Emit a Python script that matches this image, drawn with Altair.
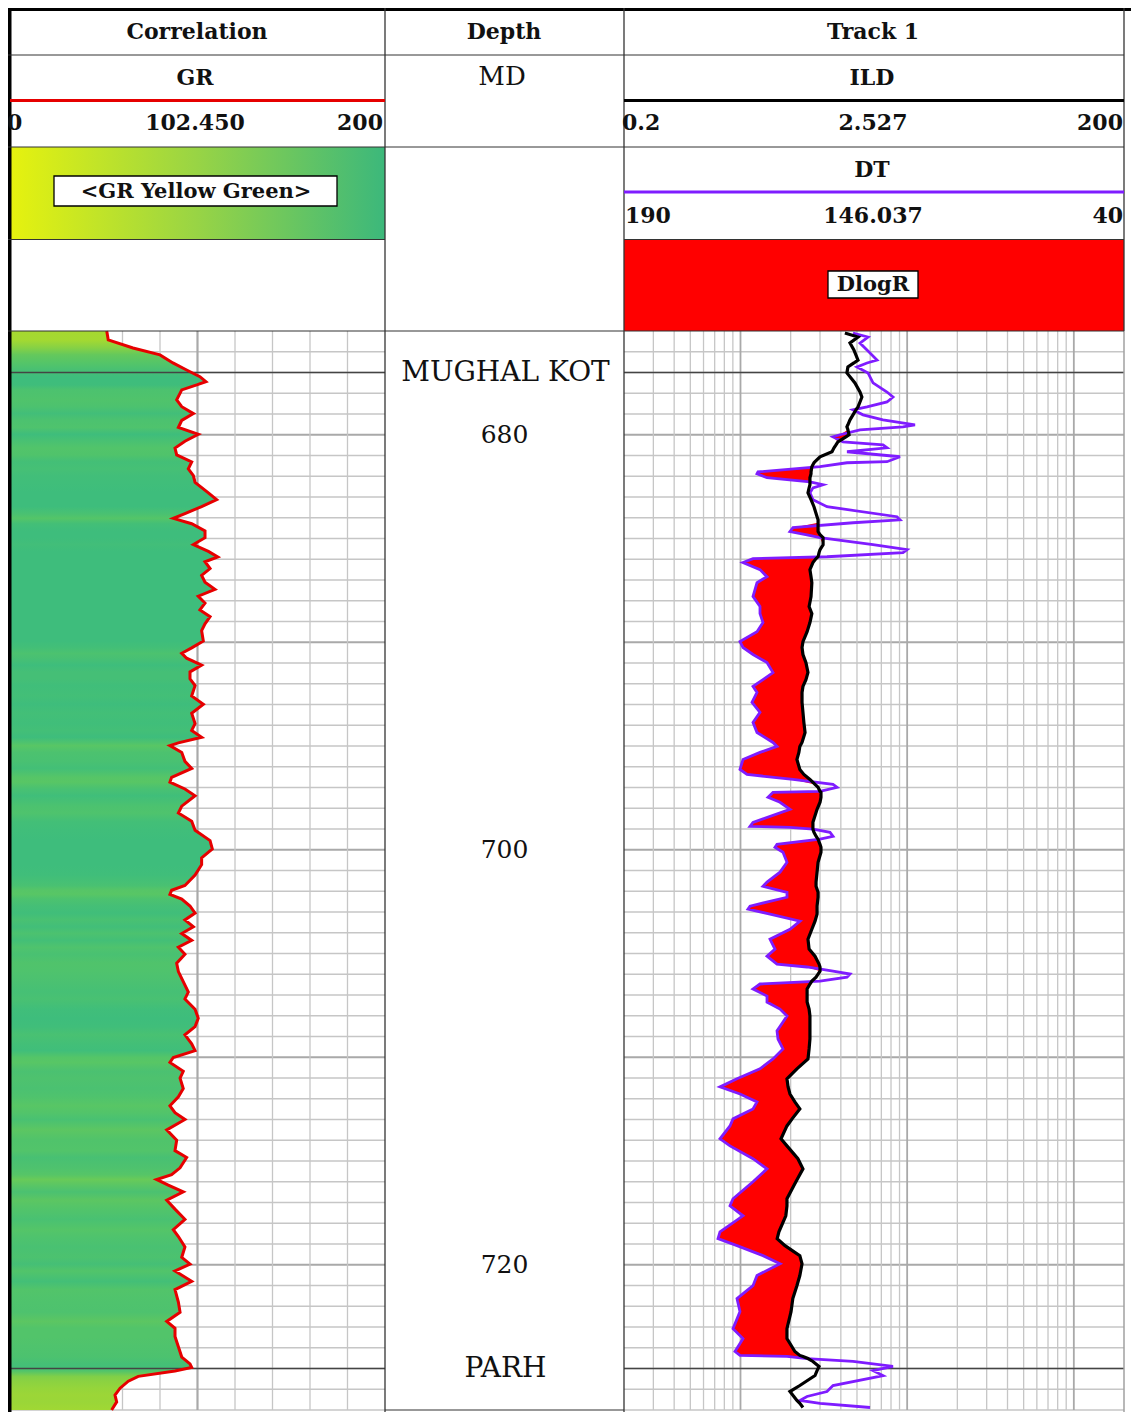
import altair as alt
import pandas as pd

# ---------------- data ----------------
# Correlation track : GR (API) vs measured depth (m)
gr_depth = [675.00, 675.43, 675.82, 676.15, 676.54, 676.88, 677.20, 677.44, 677.60, 677.84,
            678.32, 678.65, 678.98, 679.31, 679.65, 679.98, 680.31, 680.64, 680.97, 681.31,
            681.64, 681.97, 682.30, 682.80, 683.13, 683.46, 683.80, 684.03, 684.29, 684.63,
            684.96, 685.29, 685.62, 685.89, 686.12, 686.45, 686.78, 687.11, 687.45, 687.78,
            688.11, 688.44, 688.77, 689.11, 689.44, 689.94, 690.27, 690.53, 690.77, 691.10,
            691.43, 691.76, 692.09, 692.59, 692.99, 693.42, 693.92, 694.25, 694.58, 694.85,
            694.98, 695.31, 695.74, 696.08, 696.51, 696.74, 697.07, 697.40, 697.90, 698.23,
            698.63, 699.06, 699.56, 699.96, 700.39, 700.72, 701.22, 701.72, 701.95, 702.15,
            702.38, 702.71, 703.05, 703.38, 703.71, 704.04, 704.37, 704.70, 705.04, 705.47,
            705.87, 706.36, 706.86, 707.19, 707.69, 708.12, 708.52, 708.92, 709.35, 709.68,
            710.01, 710.25, 710.68, 711.01, 711.51, 711.91, 712.34, 712.67, 713.00, 713.50,
            714.00, 714.50, 714.83, 715.33, 715.66, 715.89, 716.16, 716.49, 716.89, 717.32,
            717.81, 718.31, 718.64, 719.14, 719.64, 719.97, 720.30, 720.80, 721.20, 721.80,
            722.29, 722.73, 723.06, 723.46, 723.95, 724.45, 724.78, 724.95, 725.12, 725.38,
            725.61, 725.95, 726.28, 726.61, 727.00]
gr_api = [51.6, 52.4, 65.6, 80.0, 86.9, 94.2, 101.3, 104.5, 99.6, 91.6,
          88.9, 91.6, 97.8, 91.6, 89.8, 100.4, 93.3, 88.0, 88.9, 96.9,
          95.1, 97.8, 98.7, 105.8, 110.2, 102.2, 93.3, 87.1, 96.9, 104.0,
          104.0, 97.8, 105.8, 110.8, 104.0, 106.7, 102.2, 104.0, 109.3, 100.4,
          104.0, 101.3, 106.7, 104.0, 102.2, 103.1, 96.9, 91.6, 94.2, 102.2,
          96.0, 96.0, 98.7, 96.9, 103.1, 96.9, 98.7, 96.9, 102.2, 89.8,
          85.3, 91.6, 93.3, 96.9, 86.2, 85.3, 93.3, 98.7, 91.6, 89.8,
          96.9, 98.7, 106.7, 107.9, 102.2, 102.2, 98.7, 93.3, 86.2, 85.3,
          91.6, 96.0, 98.7, 93.3, 97.8, 91.6, 96.9, 89.8, 93.3, 88.9,
          89.8, 92.4, 95.1, 93.3, 98.7, 100.4, 98.7, 93.3, 96.9, 98.7,
          87.1, 85.3, 92.4, 90.7, 92.4, 89.8, 85.3, 88.0, 93.3, 83.6,
          88.9, 88.0, 94.2, 90.7, 86.2, 78.2, 84.4, 92.4, 83.6, 88.0,
          93.3, 87.1, 89.8, 93.3, 91.6, 96.0, 88.0, 96.9, 88.0, 89.8,
          90.7, 83.6, 88.0, 88.0, 89.8, 91.6, 96.0, 96.9, 88.0, 68.4,
          63.1, 58.7, 56.0, 56.9, 54.2]

# Track 1 : DT (us/ft) and ILD (ohm.m) on a common depth list
t1_depth = [675.10, 675.29, 675.58, 675.91, 676.40, 676.54, 676.73, 677.02, 677.50, 677.94,
            678.18, 678.42, 678.66, 678.80, 679.04, 679.28, 679.52, 679.62, 679.76, 680.00,
            680.10, 680.34, 680.49, 680.63, 680.82, 681.06, 681.30, 681.35, 681.54, 681.79,
            681.88, 682.07, 682.27, 682.41, 682.56, 682.80, 683.13, 683.47, 683.95, 684.10,
            684.24, 684.48, 684.67, 684.82, 684.96, 685.30, 685.54, 685.68, 685.88, 685.97,
            686.16, 686.50, 686.84, 687.13, 687.80, 688.28, 688.62, 689.05, 689.49, 689.97,
            690.25, 690.59, 690.98, 691.46, 691.80, 692.13, 692.42, 692.90, 693.38, 693.86,
            694.35, 694.83, 695.02, 695.31, 695.65, 696.13, 696.37, 696.61, 696.85, 696.99,
            697.19, 697.23, 697.47, 697.71, 698.05, 698.68, 698.87, 698.92, 699.01, 699.16,
            699.35, 699.49, 699.74, 699.88, 700.12, 700.60, 701.08, 701.56, 701.76, 702.05,
            702.29, 702.72, 702.86, 703.10, 703.44, 703.83, 704.31, 704.79, 705.13, 705.51,
            705.65, 705.85, 705.99, 706.14, 706.33, 706.47, 706.71, 707.05, 707.34, 707.68,
            708.01, 708.30, 708.73, 709.12, 709.60, 710.08, 710.56, 711.04, 711.43, 711.77,
            712.15, 712.49, 712.97, 713.31, 713.93, 714.27, 714.89, 715.38, 716.00, 716.82,
            717.16, 717.64, 718.41, 718.74, 719.08, 719.56, 719.95, 720.52, 721.01, 721.63,
            722.26, 723.08, 723.56, 724.18, 724.37, 724.42, 724.52, 724.66, 724.90, 725.10,
            725.34, 725.82, 726.11, 726.35, 726.54, 726.68, 726.88]
dt_us = [121.3, 116.8, 119.2, 117.1, 114.1, 117.1, 120.1, 116.8, 115.3, 111.1,
         109.3, 111.1, 117.1, 121.3, 118.3, 112.3, 102.7, 106.3, 119.2, 125.2,
         127.3, 124.3, 112.3, 111.1, 123.1, 107.2, 111.1, 123.1, 131.2, 149.8,
         150.1, 147.1, 134.2, 130.3, 133.3, 134.2, 133.3, 129.1, 108.1, 107.2,
         121.3, 139.3, 140.2, 135.1, 131.2, 115.3, 105.1, 106.3, 129.1, 151.3,
         154.3, 149.2, 147.1, 150.1, 151.3, 149.2, 149.2, 148.3, 150.1, 155.2,
         154.3, 151.3, 147.1, 145.3, 148.3, 151.3, 150.1, 151.6, 149.2, 151.3,
         150.1, 145.3, 144.1, 149.2, 154.3, 155.2, 153.1, 139.3, 127.3, 126.1,
         131.2, 145.3, 146.8, 143.2, 140.2, 151.3, 152.2, 140.2, 133.3, 128.2,
         127.3, 131.2, 144.1, 144.7, 142.3, 141.1, 143.2, 147.1, 148.3, 141.1,
         141.1, 152.2, 152.8, 146.2, 137.2, 140.2, 146.2, 144.7, 147.1, 144.1,
         135.1, 127.3, 122.2, 123.1, 131.2, 149.2, 151.3, 147.1, 147.1, 143.2,
         141.1, 142.3, 144.1, 143.8, 142.3, 145.3, 149.2, 156.1, 161.2, 155.2,
         150.1, 151.3, 157.3, 158.2, 161.2, 158.2, 151.3, 147.1, 151.3, 157.3,
         158.2, 154.3, 161.2, 161.8, 156.1, 148.3, 143.2, 150.1, 151.3, 156.1,
         155.2, 157.3, 154.3, 156.7, 155.2, 141.1, 135.1, 121.3, 109.3, 115.3,
         112.3, 127.3, 129.1, 135.1, 137.2, 131.2, 116.2]
ild_ohmm = [4.23, 5.07, 4.54, 4.79, 5.07, 4.79, 4.41, 4.35, 4.86, 5.21,
            5.35, 5.21, 5.07, 4.93, 4.73, 4.54, 4.41, 4.35, 4.41, 4.48,
            4.29, 3.84, 3.74, 3.64, 3.54, 3.00, 2.80, 2.76, 2.68, 2.65,
            2.65, 2.61, 2.61, 2.61, 2.58, 2.54, 2.65, 2.76, 2.88, 2.92,
            2.92, 2.92, 2.92, 3.00, 3.13, 3.13, 3.00, 2.96, 2.92, 2.84,
            2.72, 2.61, 2.65, 2.68, 2.65, 2.58, 2.68, 2.61, 2.51, 2.37,
            2.34, 2.37, 2.47, 2.54, 2.47, 2.37, 2.34, 2.34, 2.37, 2.40,
            2.44, 2.34, 2.27, 2.24, 2.18, 2.27, 2.40, 2.61, 2.80, 2.92,
            3.00, 3.04, 3.04, 3.00, 2.88, 2.72, 2.72, 2.72, 2.72, 2.76,
            2.84, 2.92, 3.00, 3.04, 3.04, 2.92, 2.88, 2.84, 2.84, 2.92,
            2.92, 2.88, 2.88, 2.88, 2.80, 2.68, 2.54, 2.58, 2.80, 2.96,
            3.00, 3.00, 2.92, 2.84, 2.68, 2.61, 2.51, 2.51, 2.51, 2.58,
            2.61, 2.61, 2.61, 2.61, 2.58, 2.54, 2.18, 1.90, 1.93, 1.98,
            2.12, 2.27, 2.04, 1.90, 1.75, 1.90, 2.21, 2.37, 2.15, 1.90,
            1.90, 1.87, 1.70, 1.66, 1.85, 2.27, 2.34, 2.27, 2.18, 2.06,
            2.01, 1.90, 1.90, 2.12, 2.27, 2.37, 2.54, 2.72, 2.96, 2.88,
            2.80, 2.27, 1.98, 2.09, 2.18, 2.27, 2.37]

depth_labels = [680, 700, 720]
tops_name = ["MUGHAL KOT", "PARH"]
tops_depth = [677.0, 725.0]

gr_grid_minor = [20, 40, 60, 80, 120, 140, 160, 180]
gr_grid_major = [100]
res_grid_minor = [0.3, 0.4, 0.5, 0.6, 0.7, 0.8, 0.9, 2, 3, 4, 5, 6, 7, 8, 9,
                  20, 30, 40, 50, 60, 70, 80, 90]
res_grid_major = [1, 10, 100]
depth_grid = list(range(676, 728))

# ---------------- layout (plot-area pixels) ----------------
FONT = "DejaVu Serif"
W, H = 1123, 1404
Y_TOP, Y_BOT = 323, 1402
GR_L, GR_R = 2, 377
DP_L, DP_R = 377, 616
T1_L, T1_R = 616, 1116
GRID_C, GRID_MAJ = "#c6c6c6", "#a9a9a9"

ysc = alt.Scale(domain=[675, 727], range=[Y_TOP, Y_BOT], nice=False, zero=False)
grsc = alt.Scale(domain=[0, 200], range=[GR_L, GR_R], nice=False, zero=False)
ildsc = alt.Scale(type="log", domain=[0.2, 200], range=[T1_L, T1_R], nice=False)
dtsc = alt.Scale(domain=[190, 40], range=[T1_L, T1_R], nice=False, zero=False)

Y = lambda f: alt.Y(f, scale=ysc, axis=None)
one = alt.Data(values=[{}])


def hexc(c):
    return "#%02x%02x%02x" % tuple(int(round(v)) for v in c)


CM = [(50, (170, 218, 46)), (72, (118, 205, 78)), (88, (82, 196, 106)), (100, (62, 189, 124))]


def gr_color(v):
    if v <= CM[0][0]:
        return hexc(CM[0][1])
    for (a, ca), (b, cb) in zip(CM[:-1], CM[1:]):
        if v <= b:
            t = (v - a) / (b - a)
            return hexc([ca[i] + (cb[i] - ca[i]) * t for i in range(3)])
    return hexc(CM[-1][1])


d0, d1 = gr_depth[0], gr_depth[-1]
gr_grad = alt.LinearGradient(
    gradient="linear", x1=0, x2=0, y1=0, y2=1,
    stops=[alt.GradientStop(offset=(d - d0) / (d1 - d0), color=gr_color(v))
           for d, v in zip(gr_depth, gr_api)])

layers = []

# ---- depth grid (horizontal) ----
dg = pd.DataFrame({"d": depth_grid})
dg_min = dg[dg.d % 10 != 0]
dg_maj = dg[dg.d % 10 == 0]
for x0, x1 in [(GR_L, GR_R), (T1_L, T1_R)]:
    layers.append(alt.Chart(dg_min).mark_rule(color=GRID_C, strokeWidth=1.3).encode(
        y=Y("d:Q"), x=alt.value(x0), x2=alt.value(x1)))
    layers.append(alt.Chart(dg_maj).mark_rule(color=GRID_MAJ, strokeWidth=2).encode(
        y=Y("d:Q"), x=alt.value(x0), x2=alt.value(x1)))

# ---- vertical grids ----
layers.append(alt.Chart(pd.DataFrame({"g": gr_grid_minor})).mark_rule(color=GRID_C, strokeWidth=1.3).encode(
    x=alt.X("g:Q", scale=grsc, axis=None), y=alt.value(Y_TOP), y2=alt.value(Y_BOT)))
layers.append(alt.Chart(pd.DataFrame({"g": gr_grid_major})).mark_rule(color=GRID_MAJ, strokeWidth=2.2).encode(
    x=alt.X("g:Q", scale=grsc, axis=None), y=alt.value(Y_TOP), y2=alt.value(Y_BOT)))
layers.append(alt.Chart(pd.DataFrame({"r": res_grid_minor})).mark_rule(color=GRID_C, strokeWidth=1.3).encode(
    x=alt.X("r:Q", scale=ildsc, axis=None), y=alt.value(Y_TOP), y2=alt.value(Y_BOT)))
layers.append(alt.Chart(pd.DataFrame({"r": res_grid_major})).mark_rule(color=GRID_MAJ, strokeWidth=1.8).encode(
    x=alt.X("r:Q", scale=ildsc, axis=None), y=alt.value(Y_TOP), y2=alt.value(Y_BOT)))

# ---- GR fill: closed outline (curve + zero baseline), filled with GR colour ramp ----
n_gr = len(gr_depth)
gr_poly = pd.DataFrame({
    "depth": gr_depth + [gr_depth[-1], gr_depth[0]],
    "gr": gr_api + [0, 0],
    "ord": list(range(n_gr + 2)),
})
layers.append(alt.Chart(gr_poly).mark_line(filled=True, color=gr_grad, strokeWidth=0).encode(
    y=Y("depth:Q"), x=alt.X("gr:Q", scale=grsc, axis=None), order=alt.Order("ord:Q")))

# ---- DlogR separation fill (DT overlaid on ILD's log scale) ----
df_t1 = pd.DataFrame({"depth": t1_depth, "dt": dt_us, "ild": ild_ohmm})
dteq = [0.2 * 10 ** (3 * (190 - v) / 150) for v in dt_us]
left = [min(a, b) for a, b in zip(dteq, ild_ohmm)]
n_t1 = len(t1_depth)
sep_poly = pd.DataFrame({
    "depth": t1_depth + t1_depth[::-1],
    "res": left + ild_ohmm[::-1],
    "ord": list(range(2 * n_t1)),
})
layers.append(alt.Chart(sep_poly).mark_line(filled=True, color="#ff0000", strokeWidth=0).encode(
    y=Y("depth:Q"), x=alt.X("res:Q", scale=ildsc, axis=None), order=alt.Order("ord:Q")))

# ---- formation tops ----
df_tops = pd.DataFrame({"name": tops_name, "d": tops_depth})
for x0, x1 in [(GR_L, GR_R), (T1_L, T1_R)]:
    layers.append(alt.Chart(df_tops).mark_rule(color="#444444", strokeWidth=1.6).encode(
        y=Y("d:Q"), x=alt.value(x0), x2=alt.value(x1)))

# ---- curves ----
df_gr = pd.DataFrame({"depth": gr_depth, "gr": gr_api})
layers.append(alt.Chart(df_gr).mark_line(color="#e60000", strokeWidth=3).encode(
    y=Y("depth:Q"), x=alt.X("gr:Q", scale=grsc, axis=None), order=alt.Order("depth:Q")))
layers.append(alt.Chart(df_t1).mark_line(color="#7f1cff", strokeWidth=2.8).encode(
    y=Y("depth:Q"), x=alt.X("dt:Q", scale=dtsc, axis=None), order=alt.Order("depth:Q")))
layers.append(alt.Chart(df_t1).mark_line(color="#000000", strokeWidth=3.2).encode(
    y=Y("depth:Q"), x=alt.X("ild:Q", scale=ildsc, axis=None), order=alt.Order("depth:Q")))

# ---- depth track labels ----
layers.append(alt.Chart(pd.DataFrame({"d": depth_labels})).mark_text(
    font=FONT, fontSize=25, color="#111111", baseline="middle", align="center").encode(
    y=Y("d:Q"), x=alt.value((DP_L + DP_R) / 2), text="d:Q"))
layers.append(alt.Chart(df_tops).mark_text(
    font=FONT, fontSize=28, color="#111111", baseline="middle", align="center").encode(
    y=Y("d:Q"), x=alt.value((DP_L + DP_R) / 2 + 1), text="name:N"))


# ---- header blocks ----
def box(x0, x1, y0, y1, **kw):
    return alt.Chart(one).mark_rect(**kw).encode(
        x=alt.value(x0), x2=alt.value(x1), y=alt.value(y0), y2=alt.value(y1))


hdr_grad = alt.LinearGradient(gradient="linear", x1=0, x2=1, y1=0, y2=0, stops=[
    alt.GradientStop(offset=0, color="#e6f20e"),
    alt.GradientStop(offset=0.5, color="#98d445"),
    alt.GradientStop(offset=1, color="#3cb87b")])
layers.append(box(GR_L, GR_R, 139, 232, color=hdr_grad))
layers.append(box(T1_L, T1_R, 231, 323, color="#ff0000"))
layers.append(box(46, 329, 168, 198, fill="white", stroke="#000000", strokeWidth=1.3))
layers.append(box(820, 910, 263, 290, fill="white", stroke="#000000", strokeWidth=1.3))

# ---- frame lines ----
frame = pd.DataFrame([
    (0, 1.5, W, 1.5, "#000000", 3),
    (1.75, 0, 1.75, H, "#000000", 3.5),
    (DP_L, 0, DP_L, H, "#333333", 1.3),
    (DP_R, 0, DP_R, H, "#333333", 1.3),
    (T1_R, 0, T1_R, Y_TOP, "#333333", 1.3),
    (T1_R, Y_TOP, T1_R, H, "#a0a0a0", 1.5),
    (0, 47, T1_R, 47, "#333333", 1),
    (GR_L, 92.5, GR_R, 92.5, "#e60000", 3),
    (T1_L, 92.5, T1_R, 92.5, "#000000", 3),
    (0, 139, T1_R, 139, "#333333", 1),
    (T1_L, 184, T1_R, 184, "#7f1cff", 3),
    (0, 231.5, GR_R, 231.5, "#333333", 1),
    (T1_L, 231.5, T1_R, 231.5, "#333333", 1),
    (0, Y_TOP, T1_R, Y_TOP, "#333333", 1.2),
    (DP_L, Y_BOT, DP_R, Y_BOT, "#333333", 1.2),
], columns=["x", "y", "x2", "y2", "c", "w"])
layers.append(alt.Chart(frame).mark_rule().encode(
    x=alt.X("x:Q", scale=None), x2="x2:Q", y=alt.Y("y:Q", scale=None), y2="y2:Q",
    color=alt.Color("c:N", scale=None), strokeWidth=alt.StrokeWidth("w:Q", scale=None)))


# ---- header texts ----
def label(x, y, s, size=22, bold=True, align="center"):
    return alt.Chart(one).mark_text(
        text=s, font=FONT, fontSize=size, fontWeight="bold" if bold else "normal",
        align=align, baseline="middle", color="#111111").encode(x=alt.value(x), y=alt.value(y))


layers += [
    label(189, 24, "Correlation"),
    label(496, 24, "Depth"),
    label(865, 24, "Track 1"),
    label(187, 70, "GR"),
    label(494, 69, "MD", size=26, bold=False),
    label(864, 70, "ILD"),
    label(-1, 115, "0", align="left"),
    label(187, 115, "102.450"),
    label(375, 115, "200", align="right"),
    label(614, 115, "0.2", align="left"),
    label(865, 115, "2.527"),
    label(1115, 115, "200", align="right"),
    label(864, 162, "DT"),
    label(617, 208, "190", align="left"),
    label(865, 208, "146.037"),
    label(1115, 208, "40", align="right"),
    label(188, 184, "<GR Yellow Green>", size=21),
    label(865, 277, "DlogR", size=21),
]

chart = alt.layer(*layers).resolve_scale(
    x="independent", y="independent"
).properties(
    width=W, height=H, padding=0, autosize=alt.AutoSizeParams(type="none")
).configure_view(stroke=None)

chart.save("out.html", embed_options={"renderer": "svg", "actions": False})
